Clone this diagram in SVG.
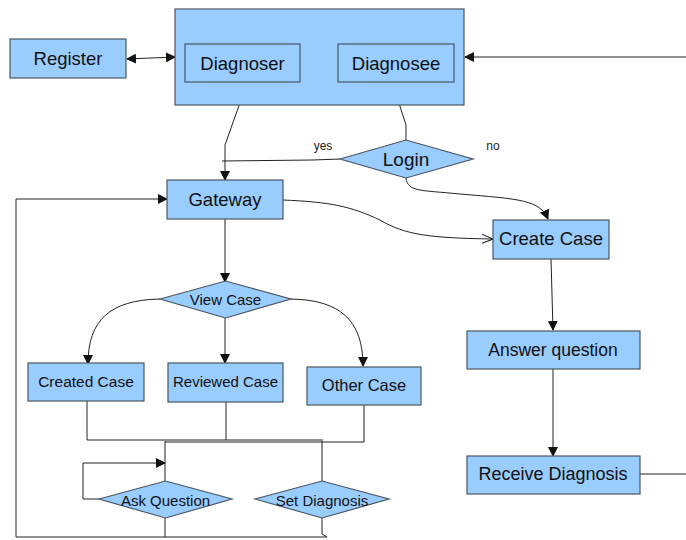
<svg xmlns="http://www.w3.org/2000/svg" width="686" height="540" viewBox="0 0 686 540">
<style>
.box{fill:#99ccff;stroke:#4a5560;stroke-width:1.2}
.t{font-family:"Liberation Sans",Arial,sans-serif;fill:#111;text-anchor:middle}
.c{fill:none;stroke:#222;stroke-width:1}
.lbl{font-family:"Liberation Sans",Arial,sans-serif;font-size:12px;fill:#222;text-anchor:middle}
</style>
<defs>
<marker id="ah" markerWidth="10" markerHeight="10" refX="9" refY="5" orient="auto" markerUnits="userSpaceOnUse"><path d="M0,0 L10,5 L0,10 Z" fill="#111"/></marker>
<marker id="as" markerWidth="10" markerHeight="10" refX="1" refY="5" orient="auto" markerUnits="userSpaceOnUse"><path d="M10,0 L0,5 L10,10 Z" fill="#111"/></marker>
<marker id="ao" markerWidth="12" markerHeight="10" refX="11" refY="5" orient="auto" markerUnits="userSpaceOnUse"><path d="M0,0.5 L11,5 L0,9.5" fill="none" stroke="#111" stroke-width="1"/></marker>
</defs>
<rect width="686" height="540" fill="#fff"/>
<g id="connectors">
<line class="c" x1="127" y1="59" x2="175" y2="57" marker-start="url(#as)" marker-end="url(#ah)"/>
<line class="c" x1="686" y1="57" x2="465" y2="57" marker-end="url(#ah)"/>
<path class="c" d="M242,82 L242,97 L225,145 L225,180" marker-end="url(#ah)"/>
<path class="c" d="M397,82 L397,97 L406,125 L406,140"/>
<path class="c" d="M222,161 L313,160 L340,159"/>
<path class="c" d="M406,178 C408,192 420,190 460,194 C520,199 540,200 548,219" marker-end="url(#ah)"/>
<path class="c" d="M283,200 C330,202 350,206 380,220 C405,235 430,238 493,239" marker-end="url(#ao)"/>
<line class="c" x1="225" y1="219" x2="225" y2="282" marker-end="url(#ah)"/>
<path class="c" d="M16,537 L16,199 L167,199" marker-end="url(#ah)"/>
<path class="c" d="M160,299 C110,300 88,320 88,364" marker-end="url(#ah)"/>
<line class="c" x1="225" y1="318" x2="225" y2="363" marker-end="url(#ah)"/>
<path class="c" d="M291,299 C340,300 363,320 363,366" marker-end="url(#ah)"/>
<path class="c" d="M87,401 L87,440 L323,440"/>
<line class="c" x1="226" y1="402" x2="226" y2="440"/>
<path class="c" d="M364,405 L364,442 L165,442"/>
<line class="c" x1="165" y1="441" x2="165" y2="481"/>
<line class="c" x1="322" y1="441" x2="322" y2="481"/>
<path class="c" d="M99,499 L83,499 L83,463 L165,463" marker-end="url(#ah)"/>
<line class="c" x1="165" y1="518" x2="165" y2="537"/>
<path class="c" d="M322,518 L322,534 L327,537 L16,537"/>
<path class="c" d="M551,259 L553,330" marker-end="url(#ah)"/>
<line class="c" x1="553" y1="369" x2="553" y2="456" marker-end="url(#ah)"/>
<line class="c" x1="640" y1="474" x2="686" y2="474"/>
</g>
<g id="register"><rect class="box" x="10" y="39" width="116" height="39"/><text class="t" x="68" y="65" font-size="18.5">Register</text></g>
<g id="users"><rect class="box" x="175" y="9" width="289" height="96"/></g>
<g id="diagnoser"><rect class="box" x="185" y="44" width="115" height="38"/><text class="t" x="242.5" y="70" font-size="18.5">Diagnoser</text></g>
<g id="diagnosee"><rect class="box" x="338" y="44" width="116" height="38"/><text class="t" x="396" y="70" font-size="18.5">Diagnosee</text></g>
<g id="login"><polygon class="box" points="340,159 406,140 473,159 406,178"/><text class="t" x="406" y="166" font-size="19">Login</text></g>
<text class="lbl" x="323" y="150">yes</text>
<text class="lbl" x="493" y="150">no</text>
<g id="gateway"><rect class="box" x="167" y="180" width="116" height="39"/><text class="t" x="225" y="206" font-size="18.5">Gateway</text></g>
<g id="createcase"><rect class="box" x="493" y="220" width="116" height="39"/><text class="t" x="551" y="245" font-size="18.5">Create Case</text></g>
<g id="viewcase"><polygon class="box" points="160,299 225.5,281 291,299 225.5,318"/><text class="t" x="225.5" y="305" font-size="15">View Case</text></g>
<g id="answer"><rect class="box" x="467" y="331" width="173" height="38"/><text class="t" x="553" y="356" font-size="17.5">Answer question</text></g>
<g id="createdcase"><rect class="box" x="28" y="363" width="116" height="38"/><text class="t" x="86" y="387" font-size="15.5">Created Case</text></g>
<g id="reviewedcase"><rect class="box" x="168" y="363" width="115" height="39"/><text class="t" x="225.5" y="387" font-size="15">Reviewed Case</text></g>
<g id="othercase"><rect class="box" x="307" y="367" width="114" height="38"/><text class="t" x="364" y="391" font-size="16.5">Other Case</text></g>
<g id="receive"><rect class="box" x="467" y="456" width="173" height="38"/><text class="t" x="553" y="480" font-size="18">Receive Diagnosis</text></g>
<g id="askquestion"><polygon class="box" points="99,499 165.5,481 232,499 165.5,518"/><text class="t" x="165.5" y="506" font-size="15">Ask Question</text></g>
<g id="setdiagnosis"><polygon class="box" points="255,499 322,481 389,499 322,518"/><text class="t" x="322" y="506" font-size="15">Set Diagnosis</text></g>
</svg>
